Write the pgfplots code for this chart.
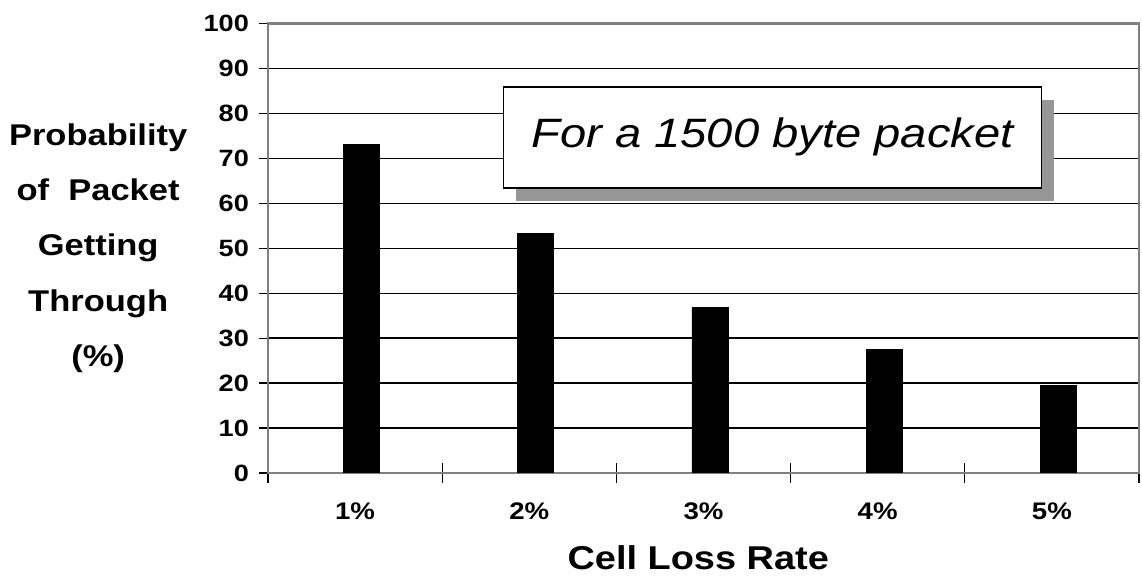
\documentclass[border=0pt]{standalone}
\usepackage{fontspec}
\setmainfont{Liberation Sans}[FakeStretch=1.15]
\usepackage{pgfplots}
\pgfplotsset{compat=1.18}
\definecolor{framegray}{HTML}{808080}
\definecolor{shadowgray}{HTML}{969696}
\begin{document}
\begin{tikzpicture}
\useasboundingbox (-134pt,-54pt) rectangle (437pt,236.5pt);
\begin{axis}[
  at={(0,0)}, anchor=south west,
  scale only axis, width=435.5pt, height=224.75pt,
  xmin=0.5, xmax=5.5, ymin=0, ymax=100,
  xtick={0.5,1.5,2.5,3.5,4.5,5.5},
  x tick label as interval,
  xticklabels={1\%,2\%,3\%,4\%,5\%},
  ytick={0,10,...,100},
  xtick pos=bottom, ytick pos=left,
  ymajorgrids,
  grid style={black, line width=0.65pt},
  axis line style={framegray, line width=1.1pt},
  tick align=outside,
  major tick length=4.5pt,
  ytick style={black, line width=0.6pt},
  xtick style={black, line width=0.6pt, /pgfplots/major tick length=10pt, yshift=5pt},
  /pgf/number format/assume math mode=true,
  yticklabel style={font=\bfseries\fontsize{11.8}{13}\selectfont, anchor=east, xshift=-1.5pt},
  xticklabel style={font=\bfseries\fontsize{12}{14}\selectfont, anchor=center, yshift=-14.5pt},
  ylabel={Probability\\of\ \ Packet\\Getting\\Through\\(\%)},
  ylabel style={rotate=-90, at={(axis description cs:-0.195,0.5)}, anchor=center, align=center, font=\bfseries\fontsize{15}{27.6}\selectfont},
  xlabel={Cell Loss Rate},
  xlabel style={at={(axis description cs:0.494,-0.189)}, anchor=center, font=\bfseries\fontsize{16.5}{20}\selectfont},
  ybar, bar width=18pt, bar shift=3.25pt,
]
\addplot[fill=black, draw=black] coordinates {(1,73.1) (2,53.3) (3,36.8) (4,27.4) (5,19.4)};
\node[fill=shadowgray, minimum width=269pt, minimum height=50.5pt, inner sep=0pt, xshift=6.5pt, yshift=-6.5pt] at (axis cs:3.396,74.7) {};
\node[draw=black, line width=0.8pt, fill=white, minimum width=269pt, minimum height=50.5pt, inner sep=0pt, font=\itshape\fontsize{20.5}{25}\selectfont] at (axis cs:3.396,74.7) {For a 1500 byte packet};
\end{axis}
\end{tikzpicture}
\end{document}
